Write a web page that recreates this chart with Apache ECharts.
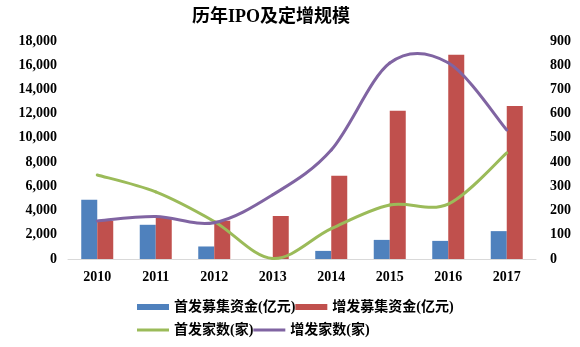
<!DOCTYPE html>
<html>
<head>
<meta charset="utf-8">
<script src="https://cdn.jsdelivr.net/npm/echarts@6/dist/echarts.min.js"></script>
<style>
  html, body { margin: 0; padding: 0; background: #fff; }
  #chart { width: 580px; height: 347px; }
</style>
</head>
<body>
<div id="chart"></div>
<script>
// Annual IPO and private placement (定增) volumes, 2010-2017
const years = ['2010', '2011', '2012', '2013', '2014', '2015', '2016', '2017'];
const ipoFunds = [4883, 2825, 1034, 0, 669, 1578, 1496, 2301];          // 亿元
const seoFunds = [3140, 3410, 3160, 3550, 6880, 12250, 16870, 12640];   // 亿元
const ipoCount = [347, 277, 155, 2, 125, 223, 227, 438];                // 家
const seoCount = [157, 175, 150, 265, 450, 809, 810, 533];              // 家
const leftTicks = { min: 0, max: 18000, step: 2000 };
const rightTicks = { min: 0, max: 900, step: 100 };

const FONT = "'Liberation Serif', 'Noto Sans CJK SC', serif";

const chart = echarts.init(document.getElementById('chart'), null, { renderer: 'canvas' });

const axisLabel = { color: '#000', fontFamily: FONT, fontWeight: 'bold', fontSize: 14 };

// Catmull-Rom style smoothed line (control arms = 1/6 of neighbour span),
// positioned through the value axis via api.coord.
function smoothLine(values, color) {
  return function (params, api) {
    if (params.dataIndex !== 0) return null;
    const pts = values.map((v, i) => api.coord([i, v]));
    const n = pts.length;
    const children = [];
    for (let i = 0; i < n - 1; i++) {
      const p0 = pts[Math.max(i - 1, 0)];
      const p1 = pts[i];
      const p2 = pts[i + 1];
      const p3 = pts[Math.min(i + 2, n - 1)];
      children.push({
        type: 'bezierCurve',
        shape: {
          x1: p1[0], y1: p1[1],
          cpx1: p1[0] + (p2[0] - p0[0]) / 6, cpy1: p1[1] + (p2[1] - p0[1]) / 6,
          cpx2: p2[0] - (p3[0] - p1[0]) / 6, cpy2: p2[1] - (p3[1] - p1[1]) / 6,
          x2: p2[0], y2: p2[1]
        },
        style: { stroke: color, lineWidth: 3, fill: null, lineCap: 'round' }
      });
    }
    return { type: 'group', children };
  };
}

chart.setOption({
  animation: false,
  backgroundColor: '#fff',
  title: {
    text: '历年IPO及定增规模',
    left: 266,
    top: 3,
    textAlign: 'center',
    textStyle: { fontFamily: FONT, fontWeight: 'bold', fontSize: 18, color: '#000' }
  },
  legend: [
    {
      data: ['首发募集资金(亿元)', '增发募集资金(亿元)'],
      left: 137, top: 300, padding: 0,
      icon: 'rect',
      itemWidth: 32, itemHeight: 6, itemGap: 0,
      textStyle: { fontFamily: FONT, fontWeight: 'bold', fontSize: 14, color: '#000', width: 124 }
    },
    {
      data: ['首发家数(家)', '增发家数(家)'],
      left: 137, top: 323, padding: 0,
      icon: 'rect',
      itemWidth: 32, itemHeight: 3, itemGap: 0,
      textStyle: { fontFamily: FONT, fontWeight: 'bold', fontSize: 14, color: '#000', width: 124 }
    }
  ],
  grid: { left: 68, right: 44, top: 41, bottom: 88, containLabel: false },
  xAxis: {
    type: 'category',
    data: years,
    axisLine: { lineStyle: { color: '#d9d9d9', width: 1 } },
    axisTick: { show: false },
    axisLabel: Object.assign({ margin: 11 }, axisLabel)
  },
  yAxis: [
    {
      type: 'value',
      min: leftTicks.min, max: leftTicks.max, interval: leftTicks.step,
      axisLine: { show: false }, axisTick: { show: false },
      splitLine: { show: false },
      axisLabel: Object.assign({
        margin: 11,
        formatter: v => v.toLocaleString('en-US')
      }, axisLabel)
    },
    {
      type: 'value',
      min: rightTicks.min, max: rightTicks.max, interval: rightTicks.step,
      axisLine: { show: false }, axisTick: { show: false },
      splitLine: { show: false },
      axisLabel: Object.assign({ margin: 14 }, axisLabel)
    }
  ],
  series: [
    {
      name: '首发募集资金(亿元)', type: 'bar', yAxisIndex: 0,
      data: ipoFunds, barWidth: 16, barGap: '0%',
      itemStyle: { color: '#4F81BD' }
    },
    {
      name: '增发募集资金(亿元)', type: 'bar', yAxisIndex: 0,
      data: seoFunds, barWidth: 16, barGap: '0%',
      itemStyle: { color: '#C0504D' }
    },
    {
      name: '首发家数(家)', type: 'custom', yAxisIndex: 1,
      data: ipoCount.map((v, i) => [i, v]),
      encode: { x: 0, y: 1 },
      renderItem: smoothLine(ipoCount, '#9BBB59'),
      itemStyle: { color: '#9BBB59' },
      z: 3
    },
    {
      name: '增发家数(家)', type: 'custom', yAxisIndex: 1,
      data: seoCount.map((v, i) => [i, v]),
      encode: { x: 0, y: 1 },
      renderItem: smoothLine(seoCount, '#8064A2'),
      itemStyle: { color: '#8064A2' },
      z: 3
    }
  ]
});
</script>
</body>
</html>
